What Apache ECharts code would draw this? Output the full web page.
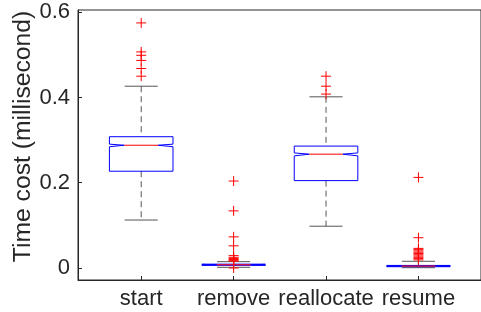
<!DOCTYPE html>
<html>
<head>
<meta charset="utf-8">
<script src="https://cdn.jsdelivr.net/npm/echarts@6/dist/echarts.min.js"></script>
<style>
  html, body { margin: 0; padding: 0; background: #fff; }
  #chart { width: 481px; height: 312px; }
</style>
</head>
<body>
<div id="chart"></div>
<script>
// box statistics per category (milliseconds)
const categories = ['start', 'remove', 'reallocate', 'resume'];
const lowerWhisker = [0.1125, 0.0016, 0.098, 0.0007];
const q1 = [0.227, 0.0062, 0.205, 0.003];
const median = [0.288, 0.0075, 0.267, 0.0045];
const q3 = [0.308, 0.009, 0.286, 0.006];
const upperWhisker = [0.4265, 0.0148, 0.4016, 0.0157];
const notchLow = [0.2845, 0.0065, 0.263, 0.0035];
const notchHigh = [0.2905, 0.0085, 0.270, 0.0055];
const outliers = [
    [0.575, 0.507, 0.499, 0.487, 0.468, 0.450],
    [0.204, 0.134, 0.073, 0.052, 0.029, 0.025, 0.022, 0.020, 0.018, 0.016, 0.0],
    [0.450, 0.4265, 0.408],
    [0.2125, 0.071, 0.046, 0.043, 0.040, 0.037, 0.034, 0.031, 0.028, 0.025, 0.022, 0.019]
];
const yTicks = [0, 0.2, 0.4, 0.6];

const boxHalf = 0.344;
const capHalf = 0.179;
const notchHalf = 0.183;
const fontFamily = '"Liberation Sans", Arial, sans-serif';
const axisColor = '#262626';

const boxData = categories.map((c, i) => [i + 1, lowerWhisker[i], q1[i], median[i], q3[i], upperWhisker[i], notchLow[i], notchHigh[i]]);
const outlierData = [];
outliers.forEach((list, i) => list.forEach(v => outlierData.push([i + 1, v])));

function renderBox(params, api) {
    const x = api.value(0);
    const lw = api.value(1), lo = api.value(2), md = api.value(3), hi = api.value(4), uw = api.value(5);
    const nlo = api.value(6), nhi = api.value(7);
    const p = (dx, v) => api.coord([x + dx, v]);
    const whiskerStyle = { stroke: '#555', lineWidth: 1, lineDash: [6, 4], fill: null };
    const capStyle = { stroke: '#555', lineWidth: 1, fill: null };
    return {
        type: 'group',
        children: [
            { type: 'line', shape: { x1: p(0, uw)[0], y1: p(0, uw)[1], x2: p(0, hi)[0], y2: p(0, hi)[1] }, style: whiskerStyle },
            { type: 'line', shape: { x1: p(0, lo)[0], y1: p(0, lo)[1], x2: p(0, lw)[0], y2: p(0, lw)[1] }, style: whiskerStyle },
            { type: 'line', shape: { x1: p(-capHalf, uw)[0], y1: p(0, uw)[1], x2: p(capHalf, uw)[0], y2: p(0, uw)[1] }, style: capStyle },
            { type: 'line', shape: { x1: p(-capHalf, lw)[0], y1: p(0, lw)[1], x2: p(capHalf, lw)[0], y2: p(0, lw)[1] }, style: capStyle },
            {
                type: 'polygon',
                shape: {
                    points: [
                        p(-boxHalf, hi), p(boxHalf, hi), p(boxHalf, nhi), p(notchHalf, md),
                        p(boxHalf, nlo), p(boxHalf, lo), p(-boxHalf, lo), p(-boxHalf, nlo),
                        p(-notchHalf, md), p(-boxHalf, nhi)
                    ]
                },
                style: { stroke: '#0000ff', lineWidth: 1, fill: null }
            },
            { type: 'line', shape: { x1: p(-notchHalf, md)[0], y1: p(0, md)[1], x2: p(notchHalf, md)[0], y2: p(0, md)[1] }, style: { stroke: '#ff0000', lineWidth: 1 } }
        ]
    };
}

function renderPlus(params, api) {
    const c = api.coord([api.value(0), api.value(1)]);
    const s = 5;
    const style = { stroke: '#ff0000', lineWidth: 1 };
    return {
        type: 'group',
        children: [
            { type: 'line', shape: { x1: c[0] - s, y1: c[1], x2: c[0] + s, y2: c[1] }, style: style },
            { type: 'line', shape: { x1: c[0], y1: c[1] - s, x2: c[0], y2: c[1] + s }, style: style }
        ]
    };
}

const chart = echarts.init(document.getElementById('chart'));
chart.setOption({
    animation: false,
    backgroundColor: '#fff',
    grid: { left: 78, right: -3, top: 10, bottom: 32, show: true, borderColor: axisColor, borderWidth: 1 },
    xAxis: {
        type: 'value',
        min: 0.316,
        max: 0.316 + 406 / 93.1,
        axisLine: { show: true, onZero: false, lineStyle: { color: axisColor } },
        axisTick: { show: true, inside: true, length: 4, customValues: [1, 2, 3, 4], lineStyle: { color: axisColor } },
        axisLabel: {
            customValues: [1, 2, 3, 4],
            formatter: v => categories[Math.round(v) - 1],
            color: axisColor, fontSize: 22, fontFamily: fontFamily, margin: 8
        },
        splitLine: { show: false }
    },
    yAxis: {
        type: 'value',
        min: -0.0282,
        max: -0.0282 + 270 / 426.2,
        axisLine: { show: true, onZero: false, lineStyle: { color: axisColor } },
        axisTick: { show: true, inside: true, length: 4, customValues: yTicks, lineStyle: { color: axisColor } },
        axisLabel: {
            customValues: yTicks,
            formatter: v => (v === 0 ? '0' : v.toFixed(1)),
            color: axisColor, fontSize: 22, fontFamily: fontFamily, margin: 8
        },
        splitLine: { show: false }
    },
    graphic: [{
        type: 'text',
        x: 23.5,
        y: 136.5,
        rotation: Math.PI / 2,
        style: {
            text: 'Time cost (millisecond)',
            fill: axisColor,
            font: '24.7px ' + fontFamily,
            textAlign: 'center',
            textVerticalAlign: 'middle'
        }
    }],
    series: [
        { type: 'custom', renderItem: renderBox, data: boxData, encode: { x: 0, y: [1, 2, 3, 4, 5] }, clip: false },
        { type: 'custom', renderItem: renderPlus, data: outlierData, encode: { x: 0, y: 1 }, clip: false }
    ]
});
</script>
</body>
</html>
